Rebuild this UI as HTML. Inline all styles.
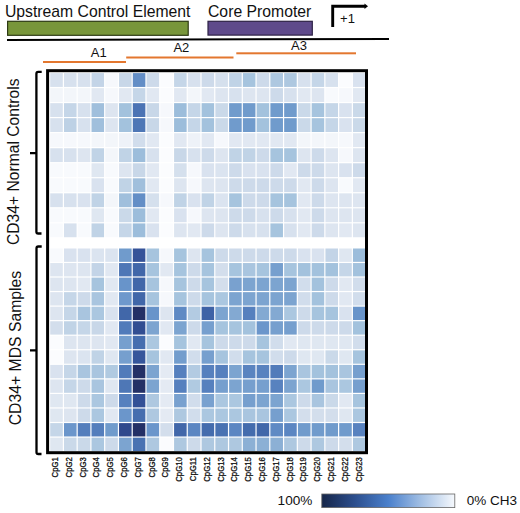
<!DOCTYPE html>
<html><head><meta charset="utf-8"><style>
html,body{margin:0;padding:0;background:#fff;}
svg{display:block;font-family:"Liberation Sans",sans-serif;}
</style></head><body>
<svg width="520" height="513" viewBox="0 0 520 513">
<defs><linearGradient id="lg" x1="0" x2="1" y1="0" y2="0">
<stop offset="0" stop-color="#162649"/>
<stop offset="0.25" stop-color="#2c4f8e"/>
<stop offset="0.5" stop-color="#4a80cc"/>
<stop offset="0.75" stop-color="#a3c0e4"/>
<stop offset="1" stop-color="#f6f9fd"/>
</linearGradient></defs>
<rect width="520" height="513" fill="#fff"/>
<!-- top annotations -->
<text x="4.9" y="17.1" font-size="15.75" fill="#111">Upstream Control Element</text>
<text x="208" y="17.1" font-size="15.75" fill="#111">Core Promoter</text>
<rect x="7.6" y="21.3" width="180.6" height="14" fill="#78963a" stroke="#2d3a14" stroke-width="1.2"/>
<rect x="208" y="21.3" width="104.3" height="13.8" fill="#5f4a8b" stroke="#2e2245" stroke-width="1.2"/>
<path d="M7 39.05 L389 37.9 L389 39.9 L7 41.05 Z" fill="#000"/>
<path d="M332.7 26.9 V6.3 H365" fill="none" stroke="#000" stroke-width="2.9"/>
<path d="M364.5 3.6 L368 6.3 L364.5 9 Z" fill="#000"/>
<text x="340.1" y="23.4" font-size="13" fill="#111">+1</text>
<!-- A regions -->
<rect x="43" y="61" width="83" height="2" fill="#e3772f"/>
<rect x="126.2" y="56.5" width="107.3" height="2" fill="#e3772f"/>
<rect x="236.3" y="52.3" width="119.7" height="2" fill="#e3772f"/>
<text x="90.8" y="57" font-size="13" fill="#111">A1</text>
<text x="173.4" y="51.6" font-size="13" fill="#111">A2</text>
<text x="291" y="49.8" font-size="13" fill="#111">A3</text>
<!-- heatmap -->
<rect x="50.24" y="73.10" width="12.56" height="13.83" fill="#d7e1ee"/><rect x="64.00" y="73.10" width="12.56" height="13.83" fill="#d7e1ee"/><rect x="77.76" y="73.10" width="12.56" height="13.83" fill="#d7e1ee"/><rect x="91.52" y="73.10" width="12.56" height="13.83" fill="#c3d4e7"/><rect x="105.28" y="73.10" width="12.56" height="13.83" fill="#f6f8fc"/><rect x="119.04" y="73.10" width="12.56" height="13.83" fill="#c8d7e8"/><rect x="132.80" y="73.10" width="12.56" height="13.83" fill="#638ec6"/><rect x="146.56" y="73.10" width="12.56" height="13.83" fill="#cddaea"/><rect x="160.32" y="73.10" width="12.56" height="13.83" fill="#fbfcfe"/><rect x="174.08" y="73.10" width="12.56" height="13.83" fill="#c5d6e8"/><rect x="187.84" y="73.10" width="12.56" height="13.83" fill="#d7e1ee"/><rect x="201.60" y="73.10" width="12.56" height="13.83" fill="#cddaea"/><rect x="215.36" y="73.10" width="12.56" height="13.83" fill="#d5e0ed"/><rect x="229.12" y="73.10" width="12.56" height="13.83" fill="#c0d3e6"/><rect x="242.88" y="73.10" width="12.56" height="13.83" fill="#a6c4de"/><rect x="256.64" y="73.10" width="12.56" height="13.83" fill="#cddaea"/><rect x="270.40" y="73.10" width="12.56" height="13.83" fill="#aec8e0"/><rect x="284.16" y="73.10" width="12.56" height="13.83" fill="#aec8e0"/><rect x="297.92" y="73.10" width="12.56" height="13.83" fill="#d7e1ee"/><rect x="311.68" y="73.10" width="12.56" height="13.83" fill="#c5d6e8"/><rect x="325.44" y="73.10" width="12.56" height="13.83" fill="#d7e1ee"/><rect x="339.20" y="73.10" width="12.56" height="13.83" fill="#fbfcfe"/><rect x="352.96" y="73.10" width="12.56" height="13.83" fill="#d9e2ef"/><rect x="50.24" y="88.13" width="12.56" height="13.83" fill="#f3f6fa"/><rect x="64.00" y="88.13" width="12.56" height="13.83" fill="#f3f6fa"/><rect x="77.76" y="88.13" width="12.56" height="13.83" fill="#f3f6fa"/><rect x="91.52" y="88.13" width="12.56" height="13.83" fill="#e1e8f2"/><rect x="105.28" y="88.13" width="12.56" height="13.83" fill="#f6f8fc"/><rect x="119.04" y="88.13" width="12.56" height="13.83" fill="#e1e8f2"/><rect x="132.80" y="88.13" width="12.56" height="13.83" fill="#c5d6e8"/><rect x="146.56" y="88.13" width="12.56" height="13.83" fill="#e1e8f2"/><rect x="160.32" y="88.13" width="12.56" height="13.83" fill="#fbfcfe"/><rect x="174.08" y="88.13" width="12.56" height="13.83" fill="#e1e8f2"/><rect x="187.84" y="88.13" width="12.56" height="13.83" fill="#f3f6fa"/><rect x="201.60" y="88.13" width="12.56" height="13.83" fill="#e1e8f2"/><rect x="215.36" y="88.13" width="12.56" height="13.83" fill="#dde5f0"/><rect x="229.12" y="88.13" width="12.56" height="13.83" fill="#d7e1ee"/><rect x="242.88" y="88.13" width="12.56" height="13.83" fill="#dde5f0"/><rect x="256.64" y="88.13" width="12.56" height="13.83" fill="#dde5f0"/><rect x="270.40" y="88.13" width="12.56" height="13.83" fill="#cddaea"/><rect x="284.16" y="88.13" width="12.56" height="13.83" fill="#d7e1ee"/><rect x="297.92" y="88.13" width="12.56" height="13.83" fill="#e1e8f2"/><rect x="311.68" y="88.13" width="12.56" height="13.83" fill="#dde5f0"/><rect x="325.44" y="88.13" width="12.56" height="13.83" fill="#f8fafd"/><rect x="339.20" y="88.13" width="12.56" height="13.83" fill="#f6f8fc"/><rect x="352.96" y="88.13" width="12.56" height="13.83" fill="#e1e8f2"/><rect x="50.24" y="103.16" width="12.56" height="13.83" fill="#d7e1ee"/><rect x="64.00" y="103.16" width="12.56" height="13.83" fill="#c5d6e8"/><rect x="77.76" y="103.16" width="12.56" height="13.83" fill="#d7e1ee"/><rect x="91.52" y="103.16" width="12.56" height="13.83" fill="#a0bfdc"/><rect x="105.28" y="103.16" width="12.56" height="13.83" fill="#dde5f0"/><rect x="119.04" y="103.16" width="12.56" height="13.83" fill="#a3c2dd"/><rect x="132.80" y="103.16" width="12.56" height="13.83" fill="#4b73b4"/><rect x="146.56" y="103.16" width="12.56" height="13.83" fill="#c8d7e8"/><rect x="160.32" y="103.16" width="12.56" height="13.83" fill="#f6f8fc"/><rect x="174.08" y="103.16" width="12.56" height="13.83" fill="#9cbddb"/><rect x="187.84" y="103.16" width="12.56" height="13.83" fill="#c5d6e8"/><rect x="201.60" y="103.16" width="12.56" height="13.83" fill="#a3c2dd"/><rect x="215.36" y="103.16" width="12.56" height="13.83" fill="#cad9e9"/><rect x="229.12" y="103.16" width="12.56" height="13.83" fill="#709bcc"/><rect x="242.88" y="103.16" width="12.56" height="13.83" fill="#709bcc"/><rect x="256.64" y="103.16" width="12.56" height="13.83" fill="#a3c2dd"/><rect x="270.40" y="103.16" width="12.56" height="13.83" fill="#709bcc"/><rect x="284.16" y="103.16" width="12.56" height="13.83" fill="#709bcc"/><rect x="297.92" y="103.16" width="12.56" height="13.83" fill="#cad9e9"/><rect x="311.68" y="103.16" width="12.56" height="13.83" fill="#a6c4de"/><rect x="325.44" y="103.16" width="12.56" height="13.83" fill="#c5d6e8"/><rect x="339.20" y="103.16" width="12.56" height="13.83" fill="#d9e2ef"/><rect x="352.96" y="103.16" width="12.56" height="13.83" fill="#cad9e9"/><rect x="50.24" y="118.19" width="12.56" height="13.83" fill="#d7e1ee"/><rect x="64.00" y="118.19" width="12.56" height="13.83" fill="#bdd1e5"/><rect x="77.76" y="118.19" width="12.56" height="13.83" fill="#d7e1ee"/><rect x="91.52" y="118.19" width="12.56" height="13.83" fill="#a0bfdc"/><rect x="105.28" y="118.19" width="12.56" height="13.83" fill="#dde5f0"/><rect x="119.04" y="118.19" width="12.56" height="13.83" fill="#a3c2dd"/><rect x="132.80" y="118.19" width="12.56" height="13.83" fill="#4e77b6"/><rect x="146.56" y="118.19" width="12.56" height="13.83" fill="#c8d7e8"/><rect x="160.32" y="118.19" width="12.56" height="13.83" fill="#f6f8fc"/><rect x="174.08" y="118.19" width="12.56" height="13.83" fill="#9cbddb"/><rect x="187.84" y="118.19" width="12.56" height="13.83" fill="#c5d6e8"/><rect x="201.60" y="118.19" width="12.56" height="13.83" fill="#a3c2dd"/><rect x="215.36" y="118.19" width="12.56" height="13.83" fill="#cad9e9"/><rect x="229.12" y="118.19" width="12.56" height="13.83" fill="#709bcc"/><rect x="242.88" y="118.19" width="12.56" height="13.83" fill="#709bcc"/><rect x="256.64" y="118.19" width="12.56" height="13.83" fill="#a3c2dd"/><rect x="270.40" y="118.19" width="12.56" height="13.83" fill="#709bcc"/><rect x="284.16" y="118.19" width="12.56" height="13.83" fill="#709bcc"/><rect x="297.92" y="118.19" width="12.56" height="13.83" fill="#cad9e9"/><rect x="311.68" y="118.19" width="12.56" height="13.83" fill="#a6c4de"/><rect x="325.44" y="118.19" width="12.56" height="13.83" fill="#c5d6e8"/><rect x="339.20" y="118.19" width="12.56" height="13.83" fill="#d9e2ef"/><rect x="352.96" y="118.19" width="12.56" height="13.83" fill="#cad9e9"/><rect x="50.24" y="133.22" width="12.56" height="13.83" fill="#f6f8fc"/><rect x="64.00" y="133.22" width="12.56" height="13.83" fill="#f6f8fc"/><rect x="77.76" y="133.22" width="12.56" height="13.83" fill="#f6f8fc"/><rect x="91.52" y="133.22" width="12.56" height="13.83" fill="#f3f6fa"/><rect x="105.28" y="133.22" width="12.56" height="13.83" fill="#f3f6fa"/><rect x="119.04" y="133.22" width="12.56" height="13.83" fill="#eef2f8"/><rect x="132.80" y="133.22" width="12.56" height="13.83" fill="#d1ddec"/><rect x="146.56" y="133.22" width="12.56" height="13.83" fill="#e1e8f2"/><rect x="160.32" y="133.22" width="12.56" height="13.83" fill="#fbfcfe"/><rect x="174.08" y="133.22" width="12.56" height="13.83" fill="#e1e8f2"/><rect x="187.84" y="133.22" width="12.56" height="13.83" fill="#eef2f8"/><rect x="201.60" y="133.22" width="12.56" height="13.83" fill="#e1e8f2"/><rect x="215.36" y="133.22" width="12.56" height="13.83" fill="#f6f8fc"/><rect x="229.12" y="133.22" width="12.56" height="13.83" fill="#e1e8f2"/><rect x="242.88" y="133.22" width="12.56" height="13.83" fill="#e1e8f2"/><rect x="256.64" y="133.22" width="12.56" height="13.83" fill="#e1e8f2"/><rect x="270.40" y="133.22" width="12.56" height="13.83" fill="#e1e8f2"/><rect x="284.16" y="133.22" width="12.56" height="13.83" fill="#e1e8f2"/><rect x="297.92" y="133.22" width="12.56" height="13.83" fill="#f3f6fa"/><rect x="311.68" y="133.22" width="12.56" height="13.83" fill="#f3f6fa"/><rect x="325.44" y="133.22" width="12.56" height="13.83" fill="#f3f6fa"/><rect x="339.20" y="133.22" width="12.56" height="13.83" fill="#f6f8fc"/><rect x="352.96" y="133.22" width="12.56" height="13.83" fill="#e1e8f2"/><rect x="50.24" y="148.25" width="12.56" height="13.83" fill="#d7e1ee"/><rect x="64.00" y="148.25" width="12.56" height="13.83" fill="#d7e1ee"/><rect x="77.76" y="148.25" width="12.56" height="13.83" fill="#dde5f0"/><rect x="91.52" y="148.25" width="12.56" height="13.83" fill="#c0d3e6"/><rect x="105.28" y="148.25" width="12.56" height="13.83" fill="#f3f6fa"/><rect x="119.04" y="148.25" width="12.56" height="13.83" fill="#c0d3e6"/><rect x="132.80" y="148.25" width="12.56" height="13.83" fill="#9cbddb"/><rect x="146.56" y="148.25" width="12.56" height="13.83" fill="#d7e1ee"/><rect x="160.32" y="148.25" width="12.56" height="13.83" fill="#fbfcfe"/><rect x="174.08" y="148.25" width="12.56" height="13.83" fill="#c8d7e8"/><rect x="187.84" y="148.25" width="12.56" height="13.83" fill="#d7e1ee"/><rect x="201.60" y="148.25" width="12.56" height="13.83" fill="#cddaea"/><rect x="215.36" y="148.25" width="12.56" height="13.83" fill="#dde5f0"/><rect x="229.12" y="148.25" width="12.56" height="13.83" fill="#c0d3e6"/><rect x="242.88" y="148.25" width="12.56" height="13.83" fill="#c0d3e6"/><rect x="256.64" y="148.25" width="12.56" height="13.83" fill="#cddaea"/><rect x="270.40" y="148.25" width="12.56" height="13.83" fill="#a6c4de"/><rect x="284.16" y="148.25" width="12.56" height="13.83" fill="#a6c4de"/><rect x="297.92" y="148.25" width="12.56" height="13.83" fill="#dde5f0"/><rect x="311.68" y="148.25" width="12.56" height="13.83" fill="#cddaea"/><rect x="325.44" y="148.25" width="12.56" height="13.83" fill="#dde5f0"/><rect x="339.20" y="148.25" width="12.56" height="13.83" fill="#f6f8fc"/><rect x="352.96" y="148.25" width="12.56" height="13.83" fill="#dde5f0"/><rect x="50.24" y="163.28" width="12.56" height="13.83" fill="#f8fafd"/><rect x="64.00" y="163.28" width="12.56" height="13.83" fill="#f8fafd"/><rect x="77.76" y="163.28" width="12.56" height="13.83" fill="#f8fafd"/><rect x="91.52" y="163.28" width="12.56" height="13.83" fill="#dfe7f1"/><rect x="105.28" y="163.28" width="12.56" height="13.83" fill="#f8fafd"/><rect x="119.04" y="163.28" width="12.56" height="13.83" fill="#dde5f0"/><rect x="132.80" y="163.28" width="12.56" height="13.83" fill="#c8d7e8"/><rect x="146.56" y="163.28" width="12.56" height="13.83" fill="#e1e8f2"/><rect x="160.32" y="163.28" width="12.56" height="13.83" fill="#fbfcfe"/><rect x="174.08" y="163.28" width="12.56" height="13.83" fill="#d5e0ed"/><rect x="187.84" y="163.28" width="12.56" height="13.83" fill="#f6f8fc"/><rect x="201.60" y="163.28" width="12.56" height="13.83" fill="#d9e2ef"/><rect x="215.36" y="163.28" width="12.56" height="13.83" fill="#dbe4f0"/><rect x="229.12" y="163.28" width="12.56" height="13.83" fill="#cddaea"/><rect x="242.88" y="163.28" width="12.56" height="13.83" fill="#d9e2ef"/><rect x="256.64" y="163.28" width="12.56" height="13.83" fill="#d9e2ef"/><rect x="270.40" y="163.28" width="12.56" height="13.83" fill="#cddaea"/><rect x="284.16" y="163.28" width="12.56" height="13.83" fill="#e1e8f2"/><rect x="297.92" y="163.28" width="12.56" height="13.83" fill="#cddaea"/><rect x="311.68" y="163.28" width="12.56" height="13.83" fill="#cddaea"/><rect x="325.44" y="163.28" width="12.56" height="13.83" fill="#dde5f0"/><rect x="339.20" y="163.28" width="12.56" height="13.83" fill="#d9e2ef"/><rect x="352.96" y="163.28" width="12.56" height="13.83" fill="#cddaea"/><rect x="50.24" y="178.31" width="12.56" height="13.83" fill="#f8fafd"/><rect x="64.00" y="178.31" width="12.56" height="13.83" fill="#f8fafd"/><rect x="77.76" y="178.31" width="12.56" height="13.83" fill="#f8fafd"/><rect x="91.52" y="178.31" width="12.56" height="13.83" fill="#d9e2ef"/><rect x="105.28" y="178.31" width="12.56" height="13.83" fill="#f8fafd"/><rect x="119.04" y="178.31" width="12.56" height="13.83" fill="#c0d3e6"/><rect x="132.80" y="178.31" width="12.56" height="13.83" fill="#a0bfdc"/><rect x="146.56" y="178.31" width="12.56" height="13.83" fill="#e1e8f2"/><rect x="160.32" y="178.31" width="12.56" height="13.83" fill="#fbfcfe"/><rect x="174.08" y="178.31" width="12.56" height="13.83" fill="#dde5f0"/><rect x="187.84" y="178.31" width="12.56" height="13.83" fill="#f6f8fc"/><rect x="201.60" y="178.31" width="12.56" height="13.83" fill="#dde5f0"/><rect x="215.36" y="178.31" width="12.56" height="13.83" fill="#dde5f0"/><rect x="229.12" y="178.31" width="12.56" height="13.83" fill="#cddaea"/><rect x="242.88" y="178.31" width="12.56" height="13.83" fill="#cddaea"/><rect x="256.64" y="178.31" width="12.56" height="13.83" fill="#cddaea"/><rect x="270.40" y="178.31" width="12.56" height="13.83" fill="#cddaea"/><rect x="284.16" y="178.31" width="12.56" height="13.83" fill="#cddaea"/><rect x="297.92" y="178.31" width="12.56" height="13.83" fill="#e1e8f2"/><rect x="311.68" y="178.31" width="12.56" height="13.83" fill="#cddaea"/><rect x="325.44" y="178.31" width="12.56" height="13.83" fill="#dde5f0"/><rect x="339.20" y="178.31" width="12.56" height="13.83" fill="#f8fafd"/><rect x="352.96" y="178.31" width="12.56" height="13.83" fill="#e1e8f2"/><rect x="50.24" y="193.34" width="12.56" height="13.83" fill="#d7e1ee"/><rect x="64.00" y="193.34" width="12.56" height="13.83" fill="#d7e1ee"/><rect x="77.76" y="193.34" width="12.56" height="13.83" fill="#d9e2ef"/><rect x="91.52" y="193.34" width="12.56" height="13.83" fill="#c0d3e6"/><rect x="105.28" y="193.34" width="12.56" height="13.83" fill="#f3f6fa"/><rect x="119.04" y="193.34" width="12.56" height="13.83" fill="#a0bfdc"/><rect x="132.80" y="193.34" width="12.56" height="13.83" fill="#638ec6"/><rect x="146.56" y="193.34" width="12.56" height="13.83" fill="#d5e0ed"/><rect x="160.32" y="193.34" width="12.56" height="13.83" fill="#f6f8fc"/><rect x="174.08" y="193.34" width="12.56" height="13.83" fill="#c0d3e6"/><rect x="187.84" y="193.34" width="12.56" height="13.83" fill="#d9e2ef"/><rect x="201.60" y="193.34" width="12.56" height="13.83" fill="#c0d3e6"/><rect x="215.36" y="193.34" width="12.56" height="13.83" fill="#dbe4f0"/><rect x="229.12" y="193.34" width="12.56" height="13.83" fill="#a6c4de"/><rect x="242.88" y="193.34" width="12.56" height="13.83" fill="#cddaea"/><rect x="256.64" y="193.34" width="12.56" height="13.83" fill="#cddaea"/><rect x="270.40" y="193.34" width="12.56" height="13.83" fill="#a6c4de"/><rect x="284.16" y="193.34" width="12.56" height="13.83" fill="#a6c4de"/><rect x="297.92" y="193.34" width="12.56" height="13.83" fill="#e1e8f2"/><rect x="311.68" y="193.34" width="12.56" height="13.83" fill="#cddaea"/><rect x="325.44" y="193.34" width="12.56" height="13.83" fill="#dde5f0"/><rect x="339.20" y="193.34" width="12.56" height="13.83" fill="#dde5f0"/><rect x="352.96" y="193.34" width="12.56" height="13.83" fill="#dde5f0"/><rect x="50.24" y="208.37" width="12.56" height="13.83" fill="#f8fafd"/><rect x="64.00" y="208.37" width="12.56" height="13.83" fill="#f8fafd"/><rect x="77.76" y="208.37" width="12.56" height="13.83" fill="#f8fafd"/><rect x="91.52" y="208.37" width="12.56" height="13.83" fill="#dfe7f1"/><rect x="105.28" y="208.37" width="12.56" height="13.83" fill="#f8fafd"/><rect x="119.04" y="208.37" width="12.56" height="13.83" fill="#cad9e9"/><rect x="132.80" y="208.37" width="12.56" height="13.83" fill="#9cbddb"/><rect x="146.56" y="208.37" width="12.56" height="13.83" fill="#e1e8f2"/><rect x="160.32" y="208.37" width="12.56" height="13.83" fill="#fbfcfe"/><rect x="174.08" y="208.37" width="12.56" height="13.83" fill="#d9e2ef"/><rect x="187.84" y="208.37" width="12.56" height="13.83" fill="#f6f8fc"/><rect x="201.60" y="208.37" width="12.56" height="13.83" fill="#dde5f0"/><rect x="215.36" y="208.37" width="12.56" height="13.83" fill="#dde5f0"/><rect x="229.12" y="208.37" width="12.56" height="13.83" fill="#cddaea"/><rect x="242.88" y="208.37" width="12.56" height="13.83" fill="#cddaea"/><rect x="256.64" y="208.37" width="12.56" height="13.83" fill="#d7e1ee"/><rect x="270.40" y="208.37" width="12.56" height="13.83" fill="#cddaea"/><rect x="284.16" y="208.37" width="12.56" height="13.83" fill="#d7e1ee"/><rect x="297.92" y="208.37" width="12.56" height="13.83" fill="#e1e8f2"/><rect x="311.68" y="208.37" width="12.56" height="13.83" fill="#cddaea"/><rect x="325.44" y="208.37" width="12.56" height="13.83" fill="#dde5f0"/><rect x="339.20" y="208.37" width="12.56" height="13.83" fill="#dde5f0"/><rect x="352.96" y="208.37" width="12.56" height="13.83" fill="#dde5f0"/><rect x="50.24" y="223.40" width="12.56" height="13.83" fill="#f8fafd"/><rect x="64.00" y="223.40" width="12.56" height="13.83" fill="#d7e1ee"/><rect x="77.76" y="223.40" width="12.56" height="13.83" fill="#f8fafd"/><rect x="91.52" y="223.40" width="12.56" height="13.83" fill="#c0d3e6"/><rect x="105.28" y="223.40" width="12.56" height="13.83" fill="#f8fafd"/><rect x="119.04" y="223.40" width="12.56" height="13.83" fill="#c5d6e8"/><rect x="132.80" y="223.40" width="12.56" height="13.83" fill="#9cbddb"/><rect x="146.56" y="223.40" width="12.56" height="13.83" fill="#d9e2ef"/><rect x="160.32" y="223.40" width="12.56" height="13.83" fill="#fbfcfe"/><rect x="174.08" y="223.40" width="12.56" height="13.83" fill="#dde5f0"/><rect x="187.84" y="223.40" width="12.56" height="13.83" fill="#e1e8f2"/><rect x="201.60" y="223.40" width="12.56" height="13.83" fill="#cddaea"/><rect x="215.36" y="223.40" width="12.56" height="13.83" fill="#dde5f0"/><rect x="229.12" y="223.40" width="12.56" height="13.83" fill="#cddaea"/><rect x="242.88" y="223.40" width="12.56" height="13.83" fill="#d7e1ee"/><rect x="256.64" y="223.40" width="12.56" height="13.83" fill="#d7e1ee"/><rect x="270.40" y="223.40" width="12.56" height="13.83" fill="#a6c4de"/><rect x="284.16" y="223.40" width="12.56" height="13.83" fill="#d7e1ee"/><rect x="297.92" y="223.40" width="12.56" height="13.83" fill="#e1e8f2"/><rect x="311.68" y="223.40" width="12.56" height="13.83" fill="#cddaea"/><rect x="325.44" y="223.40" width="12.56" height="13.83" fill="#dde5f0"/><rect x="339.20" y="223.40" width="12.56" height="13.83" fill="#e1e8f2"/><rect x="352.96" y="223.40" width="12.56" height="13.83" fill="#dde5f0"/><rect x="50.24" y="248.50" width="12.56" height="13.35" fill="#f8fafd"/><rect x="64.00" y="248.50" width="12.56" height="13.35" fill="#d9e2ef"/><rect x="77.76" y="248.50" width="12.56" height="13.35" fill="#d9e2ef"/><rect x="91.52" y="248.50" width="12.56" height="13.35" fill="#dbe4f0"/><rect x="105.28" y="248.50" width="12.56" height="13.35" fill="#dbe4f0"/><rect x="119.04" y="248.50" width="12.56" height="13.35" fill="#709bcc"/><rect x="132.80" y="248.50" width="12.56" height="13.35" fill="#355399"/><rect x="146.56" y="248.50" width="12.56" height="13.35" fill="#a6c4de"/><rect x="160.32" y="248.50" width="12.56" height="13.35" fill="#f6f8fc"/><rect x="174.08" y="248.50" width="12.56" height="13.35" fill="#a6c4de"/><rect x="187.84" y="248.50" width="12.56" height="13.35" fill="#dde5f0"/><rect x="201.60" y="248.50" width="12.56" height="13.35" fill="#a6c4de"/><rect x="215.36" y="248.50" width="12.56" height="13.35" fill="#cddaea"/><rect x="229.12" y="248.50" width="12.56" height="13.35" fill="#cddaea"/><rect x="242.88" y="248.50" width="12.56" height="13.35" fill="#cddaea"/><rect x="256.64" y="248.50" width="12.56" height="13.35" fill="#cddaea"/><rect x="270.40" y="248.50" width="12.56" height="13.35" fill="#cddaea"/><rect x="284.16" y="248.50" width="12.56" height="13.35" fill="#cddaea"/><rect x="297.92" y="248.50" width="12.56" height="13.35" fill="#d9e2ef"/><rect x="311.68" y="248.50" width="12.56" height="13.35" fill="#d9e2ef"/><rect x="325.44" y="248.50" width="12.56" height="13.35" fill="#c3d4e7"/><rect x="339.20" y="248.50" width="12.56" height="13.35" fill="#dfe7f1"/><rect x="352.96" y="248.50" width="12.56" height="13.35" fill="#9cbddb"/><rect x="50.24" y="263.05" width="12.56" height="13.35" fill="#dde5f0"/><rect x="64.00" y="263.05" width="12.56" height="13.35" fill="#dde5f0"/><rect x="77.76" y="263.05" width="12.56" height="13.35" fill="#dde5f0"/><rect x="91.52" y="263.05" width="12.56" height="13.35" fill="#c3d4e7"/><rect x="105.28" y="263.05" width="12.56" height="13.35" fill="#e1e8f2"/><rect x="119.04" y="263.05" width="12.56" height="13.35" fill="#4e77b6"/><rect x="132.80" y="263.05" width="12.56" height="13.35" fill="#4167a9"/><rect x="146.56" y="263.05" width="12.56" height="13.35" fill="#a6c4de"/><rect x="160.32" y="263.05" width="12.56" height="13.35" fill="#e1e8f2"/><rect x="174.08" y="263.05" width="12.56" height="13.35" fill="#a6c4de"/><rect x="187.84" y="263.05" width="12.56" height="13.35" fill="#cddaea"/><rect x="201.60" y="263.05" width="12.56" height="13.35" fill="#a6c4de"/><rect x="215.36" y="263.05" width="12.56" height="13.35" fill="#d3deec"/><rect x="229.12" y="263.05" width="12.56" height="13.35" fill="#a6c4de"/><rect x="242.88" y="263.05" width="12.56" height="13.35" fill="#a9c5df"/><rect x="256.64" y="263.05" width="12.56" height="13.35" fill="#a6c4de"/><rect x="270.40" y="263.05" width="12.56" height="13.35" fill="#769fce"/><rect x="284.16" y="263.05" width="12.56" height="13.35" fill="#a6c4de"/><rect x="297.92" y="263.05" width="12.56" height="13.35" fill="#a3c2dd"/><rect x="311.68" y="263.05" width="12.56" height="13.35" fill="#a3c2dd"/><rect x="325.44" y="263.05" width="12.56" height="13.35" fill="#a3c2dd"/><rect x="339.20" y="263.05" width="12.56" height="13.35" fill="#c5d6e8"/><rect x="352.96" y="263.05" width="12.56" height="13.35" fill="#a3c2dd"/><rect x="50.24" y="277.60" width="12.56" height="13.35" fill="#dde5f0"/><rect x="64.00" y="277.60" width="12.56" height="13.35" fill="#dde5f0"/><rect x="77.76" y="277.60" width="12.56" height="13.35" fill="#e1e8f2"/><rect x="91.52" y="277.60" width="12.56" height="13.35" fill="#a6c4de"/><rect x="105.28" y="277.60" width="12.56" height="13.35" fill="#e1e8f2"/><rect x="119.04" y="277.60" width="12.56" height="13.35" fill="#6894ca"/><rect x="132.80" y="277.60" width="12.56" height="13.35" fill="#4167a9"/><rect x="146.56" y="277.60" width="12.56" height="13.35" fill="#a6c4de"/><rect x="160.32" y="277.60" width="12.56" height="13.35" fill="#f6f8fc"/><rect x="174.08" y="277.60" width="12.56" height="13.35" fill="#a6c4de"/><rect x="187.84" y="277.60" width="12.56" height="13.35" fill="#cddaea"/><rect x="201.60" y="277.60" width="12.56" height="13.35" fill="#a6c4de"/><rect x="215.36" y="277.60" width="12.56" height="13.35" fill="#d3deec"/><rect x="229.12" y="277.60" width="12.56" height="13.35" fill="#79a1cf"/><rect x="242.88" y="277.60" width="12.56" height="13.35" fill="#7ca4d0"/><rect x="256.64" y="277.60" width="12.56" height="13.35" fill="#7ca4d0"/><rect x="270.40" y="277.60" width="12.56" height="13.35" fill="#7ca4d0"/><rect x="284.16" y="277.60" width="12.56" height="13.35" fill="#7ca4d0"/><rect x="297.92" y="277.60" width="12.56" height="13.35" fill="#d1ddec"/><rect x="311.68" y="277.60" width="12.56" height="13.35" fill="#a3c2dd"/><rect x="325.44" y="277.60" width="12.56" height="13.35" fill="#cddaea"/><rect x="339.20" y="277.60" width="12.56" height="13.35" fill="#e1e8f2"/><rect x="352.96" y="277.60" width="12.56" height="13.35" fill="#d1ddec"/><rect x="50.24" y="292.15" width="12.56" height="13.35" fill="#dde5f0"/><rect x="64.00" y="292.15" width="12.56" height="13.35" fill="#c5d6e8"/><rect x="77.76" y="292.15" width="12.56" height="13.35" fill="#cddaea"/><rect x="91.52" y="292.15" width="12.56" height="13.35" fill="#a9c5df"/><rect x="105.28" y="292.15" width="12.56" height="13.35" fill="#e1e8f2"/><rect x="119.04" y="292.15" width="12.56" height="13.35" fill="#6e98cc"/><rect x="132.80" y="292.15" width="12.56" height="13.35" fill="#4167a9"/><rect x="146.56" y="292.15" width="12.56" height="13.35" fill="#a6c4de"/><rect x="160.32" y="292.15" width="12.56" height="13.35" fill="#f6f8fc"/><rect x="174.08" y="292.15" width="12.56" height="13.35" fill="#a6c4de"/><rect x="187.84" y="292.15" width="12.56" height="13.35" fill="#cddaea"/><rect x="201.60" y="292.15" width="12.56" height="13.35" fill="#a6c4de"/><rect x="215.36" y="292.15" width="12.56" height="13.35" fill="#abc7e0"/><rect x="229.12" y="292.15" width="12.56" height="13.35" fill="#7ca4d0"/><rect x="242.88" y="292.15" width="12.56" height="13.35" fill="#7ca4d0"/><rect x="256.64" y="292.15" width="12.56" height="13.35" fill="#7ca4d0"/><rect x="270.40" y="292.15" width="12.56" height="13.35" fill="#7ca4d0"/><rect x="284.16" y="292.15" width="12.56" height="13.35" fill="#7ca4d0"/><rect x="297.92" y="292.15" width="12.56" height="13.35" fill="#d1ddec"/><rect x="311.68" y="292.15" width="12.56" height="13.35" fill="#a3c2dd"/><rect x="325.44" y="292.15" width="12.56" height="13.35" fill="#cddaea"/><rect x="339.20" y="292.15" width="12.56" height="13.35" fill="#e1e8f2"/><rect x="352.96" y="292.15" width="12.56" height="13.35" fill="#d1ddec"/><rect x="50.24" y="306.70" width="12.56" height="13.35" fill="#dde5f0"/><rect x="64.00" y="306.70" width="12.56" height="13.35" fill="#c5d6e8"/><rect x="77.76" y="306.70" width="12.56" height="13.35" fill="#a9c5df"/><rect x="91.52" y="306.70" width="12.56" height="13.35" fill="#abc7e0"/><rect x="105.28" y="306.70" width="12.56" height="13.35" fill="#d9e2ef"/><rect x="119.04" y="306.70" width="12.56" height="13.35" fill="#4167a9"/><rect x="132.80" y="306.70" width="12.56" height="13.35" fill="#243066"/><rect x="146.56" y="306.70" width="12.56" height="13.35" fill="#6894ca"/><rect x="160.32" y="306.70" width="12.56" height="13.35" fill="#dde5f0"/><rect x="174.08" y="306.70" width="12.56" height="13.35" fill="#5f8ac4"/><rect x="187.84" y="306.70" width="12.56" height="13.35" fill="#b3cbe2"/><rect x="201.60" y="306.70" width="12.56" height="13.35" fill="#3e62a6"/><rect x="215.36" y="306.70" width="12.56" height="13.35" fill="#7ca4d0"/><rect x="229.12" y="306.70" width="12.56" height="13.35" fill="#83a9d2"/><rect x="242.88" y="306.70" width="12.56" height="13.35" fill="#5680be"/><rect x="256.64" y="306.70" width="12.56" height="13.35" fill="#83a9d2"/><rect x="270.40" y="306.70" width="12.56" height="13.35" fill="#83a9d2"/><rect x="284.16" y="306.70" width="12.56" height="13.35" fill="#abc7e0"/><rect x="297.92" y="306.70" width="12.56" height="13.35" fill="#cddaea"/><rect x="311.68" y="306.70" width="12.56" height="13.35" fill="#a6c4de"/><rect x="325.44" y="306.70" width="12.56" height="13.35" fill="#a6c4de"/><rect x="339.20" y="306.70" width="12.56" height="13.35" fill="#d9e2ef"/><rect x="352.96" y="306.70" width="12.56" height="13.35" fill="#6894ca"/><rect x="50.24" y="321.25" width="12.56" height="13.35" fill="#d3deec"/><rect x="64.00" y="321.25" width="12.56" height="13.35" fill="#c0d3e6"/><rect x="77.76" y="321.25" width="12.56" height="13.35" fill="#c5d6e8"/><rect x="91.52" y="321.25" width="12.56" height="13.35" fill="#c8d7e8"/><rect x="105.28" y="321.25" width="12.56" height="13.35" fill="#e1e8f2"/><rect x="119.04" y="321.25" width="12.56" height="13.35" fill="#517bba"/><rect x="132.80" y="321.25" width="12.56" height="13.35" fill="#324e92"/><rect x="146.56" y="321.25" width="12.56" height="13.35" fill="#7ca4d0"/><rect x="160.32" y="321.25" width="12.56" height="13.35" fill="#e1e8f2"/><rect x="174.08" y="321.25" width="12.56" height="13.35" fill="#7ca4d0"/><rect x="187.84" y="321.25" width="12.56" height="13.35" fill="#cddaea"/><rect x="201.60" y="321.25" width="12.56" height="13.35" fill="#769fce"/><rect x="215.36" y="321.25" width="12.56" height="13.35" fill="#a6c4de"/><rect x="229.12" y="321.25" width="12.56" height="13.35" fill="#a6c4de"/><rect x="242.88" y="321.25" width="12.56" height="13.35" fill="#a3c2dd"/><rect x="256.64" y="321.25" width="12.56" height="13.35" fill="#6b96cb"/><rect x="270.40" y="321.25" width="12.56" height="13.35" fill="#769fce"/><rect x="284.16" y="321.25" width="12.56" height="13.35" fill="#769fce"/><rect x="297.92" y="321.25" width="12.56" height="13.35" fill="#cddaea"/><rect x="311.68" y="321.25" width="12.56" height="13.35" fill="#cddaea"/><rect x="325.44" y="321.25" width="12.56" height="13.35" fill="#cddaea"/><rect x="339.20" y="321.25" width="12.56" height="13.35" fill="#cddaea"/><rect x="352.96" y="321.25" width="12.56" height="13.35" fill="#a3c2dd"/><rect x="50.24" y="335.80" width="12.56" height="13.35" fill="#fbfcfe"/><rect x="64.00" y="335.80" width="12.56" height="13.35" fill="#dde5f0"/><rect x="77.76" y="335.80" width="12.56" height="13.35" fill="#dde5f0"/><rect x="91.52" y="335.80" width="12.56" height="13.35" fill="#dde5f0"/><rect x="105.28" y="335.80" width="12.56" height="13.35" fill="#e1e8f2"/><rect x="119.04" y="335.80" width="12.56" height="13.35" fill="#769fce"/><rect x="132.80" y="335.80" width="12.56" height="13.35" fill="#466eaf"/><rect x="146.56" y="335.80" width="12.56" height="13.35" fill="#abc7e0"/><rect x="160.32" y="335.80" width="12.56" height="13.35" fill="#fbfcfe"/><rect x="174.08" y="335.80" width="12.56" height="13.35" fill="#a6c4de"/><rect x="187.84" y="335.80" width="12.56" height="13.35" fill="#e1e8f2"/><rect x="201.60" y="335.80" width="12.56" height="13.35" fill="#a6c4de"/><rect x="215.36" y="335.80" width="12.56" height="13.35" fill="#cddaea"/><rect x="229.12" y="335.80" width="12.56" height="13.35" fill="#cddaea"/><rect x="242.88" y="335.80" width="12.56" height="13.35" fill="#cddaea"/><rect x="256.64" y="335.80" width="12.56" height="13.35" fill="#a6c4de"/><rect x="270.40" y="335.80" width="12.56" height="13.35" fill="#d1ddec"/><rect x="284.16" y="335.80" width="12.56" height="13.35" fill="#e1e8f2"/><rect x="297.92" y="335.80" width="12.56" height="13.35" fill="#dfe7f1"/><rect x="311.68" y="335.80" width="12.56" height="13.35" fill="#dfe7f1"/><rect x="325.44" y="335.80" width="12.56" height="13.35" fill="#dfe7f1"/><rect x="339.20" y="335.80" width="12.56" height="13.35" fill="#dfe7f1"/><rect x="352.96" y="335.80" width="12.56" height="13.35" fill="#d1ddec"/><rect x="50.24" y="350.35" width="12.56" height="13.35" fill="#fbfcfe"/><rect x="64.00" y="350.35" width="12.56" height="13.35" fill="#dde5f0"/><rect x="77.76" y="350.35" width="12.56" height="13.35" fill="#dbe4f0"/><rect x="91.52" y="350.35" width="12.56" height="13.35" fill="#c0d3e6"/><rect x="105.28" y="350.35" width="12.56" height="13.35" fill="#dfe7f1"/><rect x="119.04" y="350.35" width="12.56" height="13.35" fill="#769fce"/><rect x="132.80" y="350.35" width="12.56" height="13.35" fill="#36569c"/><rect x="146.56" y="350.35" width="12.56" height="13.35" fill="#a6c4de"/><rect x="160.32" y="350.35" width="12.56" height="13.35" fill="#e1e8f2"/><rect x="174.08" y="350.35" width="12.56" height="13.35" fill="#739dcd"/><rect x="187.84" y="350.35" width="12.56" height="13.35" fill="#d1ddec"/><rect x="201.60" y="350.35" width="12.56" height="13.35" fill="#769fce"/><rect x="215.36" y="350.35" width="12.56" height="13.35" fill="#a6c4de"/><rect x="229.12" y="350.35" width="12.56" height="13.35" fill="#d1ddec"/><rect x="242.88" y="350.35" width="12.56" height="13.35" fill="#a6c4de"/><rect x="256.64" y="350.35" width="12.56" height="13.35" fill="#a6c4de"/><rect x="270.40" y="350.35" width="12.56" height="13.35" fill="#d1ddec"/><rect x="284.16" y="350.35" width="12.56" height="13.35" fill="#cddaea"/><rect x="297.92" y="350.35" width="12.56" height="13.35" fill="#dfe7f1"/><rect x="311.68" y="350.35" width="12.56" height="13.35" fill="#dfe7f1"/><rect x="325.44" y="350.35" width="12.56" height="13.35" fill="#cad9e9"/><rect x="339.20" y="350.35" width="12.56" height="13.35" fill="#dfe7f1"/><rect x="352.96" y="350.35" width="12.56" height="13.35" fill="#a6c4de"/><rect x="50.24" y="364.90" width="12.56" height="13.35" fill="#d9e2ef"/><rect x="64.00" y="364.90" width="12.56" height="13.35" fill="#c5d6e8"/><rect x="77.76" y="364.90" width="12.56" height="13.35" fill="#a9c5df"/><rect x="91.52" y="364.90" width="12.56" height="13.35" fill="#a9c5df"/><rect x="105.28" y="364.90" width="12.56" height="13.35" fill="#b0cae1"/><rect x="119.04" y="364.90" width="12.56" height="13.35" fill="#517bba"/><rect x="132.80" y="364.90" width="12.56" height="13.35" fill="#243066"/><rect x="146.56" y="364.90" width="12.56" height="13.35" fill="#7ca4d0"/><rect x="160.32" y="364.90" width="12.56" height="13.35" fill="#e4eaf3"/><rect x="174.08" y="364.90" width="12.56" height="13.35" fill="#5680be"/><rect x="187.84" y="364.90" width="12.56" height="13.35" fill="#b3cbe2"/><rect x="201.60" y="364.90" width="12.56" height="13.35" fill="#5680be"/><rect x="215.36" y="364.90" width="12.56" height="13.35" fill="#5680be"/><rect x="229.12" y="364.90" width="12.56" height="13.35" fill="#7ca4d0"/><rect x="242.88" y="364.90" width="12.56" height="13.35" fill="#5a84c0"/><rect x="256.64" y="364.90" width="12.56" height="13.35" fill="#5882bf"/><rect x="270.40" y="364.90" width="12.56" height="13.35" fill="#517bba"/><rect x="284.16" y="364.90" width="12.56" height="13.35" fill="#7ca4d0"/><rect x="297.92" y="364.90" width="12.56" height="13.35" fill="#a9c5df"/><rect x="311.68" y="364.90" width="12.56" height="13.35" fill="#a3c2dd"/><rect x="325.44" y="364.90" width="12.56" height="13.35" fill="#a3c2dd"/><rect x="339.20" y="364.90" width="12.56" height="13.35" fill="#a9c5df"/><rect x="352.96" y="364.90" width="12.56" height="13.35" fill="#769fce"/><rect x="50.24" y="379.45" width="12.56" height="13.35" fill="#dde5f0"/><rect x="64.00" y="379.45" width="12.56" height="13.35" fill="#c5d6e8"/><rect x="77.76" y="379.45" width="12.56" height="13.35" fill="#cddaea"/><rect x="91.52" y="379.45" width="12.56" height="13.35" fill="#a9c5df"/><rect x="105.28" y="379.45" width="12.56" height="13.35" fill="#dfe7f1"/><rect x="119.04" y="379.45" width="12.56" height="13.35" fill="#4e77b6"/><rect x="132.80" y="379.45" width="12.56" height="13.35" fill="#243066"/><rect x="146.56" y="379.45" width="12.56" height="13.35" fill="#7ca4d0"/><rect x="160.32" y="379.45" width="12.56" height="13.35" fill="#e4eaf3"/><rect x="174.08" y="379.45" width="12.56" height="13.35" fill="#5680be"/><rect x="187.84" y="379.45" width="12.56" height="13.35" fill="#b0cae1"/><rect x="201.60" y="379.45" width="12.56" height="13.35" fill="#5680be"/><rect x="215.36" y="379.45" width="12.56" height="13.35" fill="#769fce"/><rect x="229.12" y="379.45" width="12.56" height="13.35" fill="#7ca4d0"/><rect x="242.88" y="379.45" width="12.56" height="13.35" fill="#769fce"/><rect x="256.64" y="379.45" width="12.56" height="13.35" fill="#769fce"/><rect x="270.40" y="379.45" width="12.56" height="13.35" fill="#5882bf"/><rect x="284.16" y="379.45" width="12.56" height="13.35" fill="#7ca4d0"/><rect x="297.92" y="379.45" width="12.56" height="13.35" fill="#abc7e0"/><rect x="311.68" y="379.45" width="12.56" height="13.35" fill="#709bcc"/><rect x="325.44" y="379.45" width="12.56" height="13.35" fill="#a9c5df"/><rect x="339.20" y="379.45" width="12.56" height="13.35" fill="#abc7e0"/><rect x="352.96" y="379.45" width="12.56" height="13.35" fill="#769fce"/><rect x="50.24" y="394.00" width="12.56" height="13.35" fill="#dfe7f1"/><rect x="64.00" y="394.00" width="12.56" height="13.35" fill="#dfe7f1"/><rect x="77.76" y="394.00" width="12.56" height="13.35" fill="#cddaea"/><rect x="91.52" y="394.00" width="12.56" height="13.35" fill="#abc7e0"/><rect x="105.28" y="394.00" width="12.56" height="13.35" fill="#cddaea"/><rect x="119.04" y="394.00" width="12.56" height="13.35" fill="#5680be"/><rect x="132.80" y="394.00" width="12.56" height="13.35" fill="#335096"/><rect x="146.56" y="394.00" width="12.56" height="13.35" fill="#aec8e0"/><rect x="160.32" y="394.00" width="12.56" height="13.35" fill="#e4eaf3"/><rect x="174.08" y="394.00" width="12.56" height="13.35" fill="#79a1cf"/><rect x="187.84" y="394.00" width="12.56" height="13.35" fill="#d1ddec"/><rect x="201.60" y="394.00" width="12.56" height="13.35" fill="#79a1cf"/><rect x="215.36" y="394.00" width="12.56" height="13.35" fill="#abc7e0"/><rect x="229.12" y="394.00" width="12.56" height="13.35" fill="#abc7e0"/><rect x="242.88" y="394.00" width="12.56" height="13.35" fill="#769fce"/><rect x="256.64" y="394.00" width="12.56" height="13.35" fill="#7ca4d0"/><rect x="270.40" y="394.00" width="12.56" height="13.35" fill="#7ca4d0"/><rect x="284.16" y="394.00" width="12.56" height="13.35" fill="#abc7e0"/><rect x="297.92" y="394.00" width="12.56" height="13.35" fill="#cddaea"/><rect x="311.68" y="394.00" width="12.56" height="13.35" fill="#a9c5df"/><rect x="325.44" y="394.00" width="12.56" height="13.35" fill="#cad9e9"/><rect x="339.20" y="394.00" width="12.56" height="13.35" fill="#e1e8f2"/><rect x="352.96" y="394.00" width="12.56" height="13.35" fill="#a6c4de"/><rect x="50.24" y="408.55" width="12.56" height="13.35" fill="#dfe7f1"/><rect x="64.00" y="408.55" width="12.56" height="13.35" fill="#dde5f0"/><rect x="77.76" y="408.55" width="12.56" height="13.35" fill="#cddaea"/><rect x="91.52" y="408.55" width="12.56" height="13.35" fill="#abc7e0"/><rect x="105.28" y="408.55" width="12.56" height="13.35" fill="#e1e8f2"/><rect x="119.04" y="408.55" width="12.56" height="13.35" fill="#6b96cb"/><rect x="132.80" y="408.55" width="12.56" height="13.35" fill="#466eaf"/><rect x="146.56" y="408.55" width="12.56" height="13.35" fill="#aec8e0"/><rect x="160.32" y="408.55" width="12.56" height="13.35" fill="#e4eaf3"/><rect x="174.08" y="408.55" width="12.56" height="13.35" fill="#aec8e0"/><rect x="187.84" y="408.55" width="12.56" height="13.35" fill="#d1ddec"/><rect x="201.60" y="408.55" width="12.56" height="13.35" fill="#abc7e0"/><rect x="215.36" y="408.55" width="12.56" height="13.35" fill="#abc7e0"/><rect x="229.12" y="408.55" width="12.56" height="13.35" fill="#abc7e0"/><rect x="242.88" y="408.55" width="12.56" height="13.35" fill="#a9c5df"/><rect x="256.64" y="408.55" width="12.56" height="13.35" fill="#a9c5df"/><rect x="270.40" y="408.55" width="12.56" height="13.35" fill="#769fce"/><rect x="284.16" y="408.55" width="12.56" height="13.35" fill="#abc7e0"/><rect x="297.92" y="408.55" width="12.56" height="13.35" fill="#d3deec"/><rect x="311.68" y="408.55" width="12.56" height="13.35" fill="#d3deec"/><rect x="325.44" y="408.55" width="12.56" height="13.35" fill="#d3deec"/><rect x="339.20" y="408.55" width="12.56" height="13.35" fill="#dfe7f1"/><rect x="352.96" y="408.55" width="12.56" height="13.35" fill="#abc7e0"/><rect x="50.24" y="423.10" width="12.56" height="13.35" fill="#c5d6e8"/><rect x="64.00" y="423.10" width="12.56" height="13.35" fill="#6b96cb"/><rect x="77.76" y="423.10" width="12.56" height="13.35" fill="#547ebc"/><rect x="91.52" y="423.10" width="12.56" height="13.35" fill="#547ebc"/><rect x="105.28" y="423.10" width="12.56" height="13.35" fill="#709bcc"/><rect x="119.04" y="423.10" width="12.56" height="13.35" fill="#2f488c"/><rect x="132.80" y="423.10" width="12.56" height="13.35" fill="#243066"/><rect x="146.56" y="423.10" width="12.56" height="13.35" fill="#6b96cb"/><rect x="160.32" y="423.10" width="12.56" height="13.35" fill="#d3deec"/><rect x="174.08" y="423.10" width="12.56" height="13.35" fill="#4167a9"/><rect x="187.84" y="423.10" width="12.56" height="13.35" fill="#5b86c2"/><rect x="201.60" y="423.10" width="12.56" height="13.35" fill="#446cad"/><rect x="215.36" y="423.10" width="12.56" height="13.35" fill="#4972b2"/><rect x="229.12" y="423.10" width="12.56" height="13.35" fill="#5b86c2"/><rect x="242.88" y="423.10" width="12.56" height="13.35" fill="#446cad"/><rect x="256.64" y="423.10" width="12.56" height="13.35" fill="#4167a9"/><rect x="270.40" y="423.10" width="12.56" height="13.35" fill="#5f8ac4"/><rect x="284.16" y="423.10" width="12.56" height="13.35" fill="#5b86c2"/><rect x="297.92" y="423.10" width="12.56" height="13.35" fill="#709bcc"/><rect x="311.68" y="423.10" width="12.56" height="13.35" fill="#709bcc"/><rect x="325.44" y="423.10" width="12.56" height="13.35" fill="#709bcc"/><rect x="339.20" y="423.10" width="12.56" height="13.35" fill="#709bcc"/><rect x="352.96" y="423.10" width="12.56" height="13.35" fill="#5882bf"/><rect x="50.24" y="437.65" width="12.56" height="13.35" fill="#dfe7f1"/><rect x="64.00" y="437.65" width="12.56" height="13.35" fill="#cad9e9"/><rect x="77.76" y="437.65" width="12.56" height="13.35" fill="#cad9e9"/><rect x="91.52" y="437.65" width="12.56" height="13.35" fill="#abc7e0"/><rect x="105.28" y="437.65" width="12.56" height="13.35" fill="#cddaea"/><rect x="119.04" y="437.65" width="12.56" height="13.35" fill="#7ca4d0"/><rect x="132.80" y="437.65" width="12.56" height="13.35" fill="#4972b2"/><rect x="146.56" y="437.65" width="12.56" height="13.35" fill="#aec8e0"/><rect x="160.32" y="437.65" width="12.56" height="13.35" fill="#fbfcfe"/><rect x="174.08" y="437.65" width="12.56" height="13.35" fill="#aec8e0"/><rect x="187.84" y="437.65" width="12.56" height="13.35" fill="#cddaea"/><rect x="201.60" y="437.65" width="12.56" height="13.35" fill="#aec8e0"/><rect x="215.36" y="437.65" width="12.56" height="13.35" fill="#aec8e0"/><rect x="229.12" y="437.65" width="12.56" height="13.35" fill="#aec8e0"/><rect x="242.88" y="437.65" width="12.56" height="13.35" fill="#8cb0d5"/><rect x="256.64" y="437.65" width="12.56" height="13.35" fill="#8cb0d5"/><rect x="270.40" y="437.65" width="12.56" height="13.35" fill="#8cb0d5"/><rect x="284.16" y="437.65" width="12.56" height="13.35" fill="#aec8e0"/><rect x="297.92" y="437.65" width="12.56" height="13.35" fill="#cddaea"/><rect x="311.68" y="437.65" width="12.56" height="13.35" fill="#aec8e0"/><rect x="325.44" y="437.65" width="12.56" height="13.35" fill="#cddaea"/><rect x="339.20" y="437.65" width="12.56" height="13.35" fill="#d3deec"/><rect x="352.96" y="437.65" width="12.56" height="13.35" fill="#aec8e0"/>
<rect x="47.6" y="70.7" width="318.9" height="382" fill="none" stroke="#000" stroke-width="3"/>
<!-- brackets -->
<path d="M41.7 71.9 H38.2 Q36.4 71.9 36.4 73.7 V231.7 Q36.4 233.5 38.2 233.5 H41.5 M36.4 153.2 H30" fill="none" stroke="#000" stroke-width="2.3"/>
<path d="M41.7 246.5 H38.3 Q36.5 246.5 36.5 248.3 V452.2 Q36.5 454 38.3 454 H41.5 M36.5 350.4 H30" fill="none" stroke="#000" stroke-width="2.3"/>
<text transform="translate(19.3,245) rotate(-90)" font-size="15.65" fill="#111">CD34+ Normal Controls</text>
<text transform="translate(21,425.3) rotate(-90)" font-size="15.75" fill="#111">CD34+ MDS Samples</text>
<!-- column labels -->
<g font-size="8.6" fill="#111" stroke="#111" stroke-width="0.3"><text transform="translate(57.92,457.2) rotate(-90) scale(0.9,1)" text-anchor="end">CpG1</text><text transform="translate(71.72,457.2) rotate(-90) scale(0.9,1)" text-anchor="end">CpG2</text><text transform="translate(85.52,457.2) rotate(-90) scale(0.9,1)" text-anchor="end">CpG3</text><text transform="translate(99.32,457.2) rotate(-90) scale(0.9,1)" text-anchor="end">CpG4</text><text transform="translate(113.12,457.2) rotate(-90) scale(0.9,1)" text-anchor="end">CpG5</text><text transform="translate(126.92,457.2) rotate(-90) scale(0.9,1)" text-anchor="end">CpG6</text><text transform="translate(140.72,457.2) rotate(-90) scale(0.9,1)" text-anchor="end">CpG7</text><text transform="translate(154.52,457.2) rotate(-90) scale(0.9,1)" text-anchor="end">CpG8</text><text transform="translate(168.32,457.2) rotate(-90) scale(0.9,1)" text-anchor="end">CpG9</text><text transform="translate(182.12,457.2) rotate(-90) scale(0.9,1)" text-anchor="end">CpG10</text><text transform="translate(195.92,457.2) rotate(-90) scale(0.9,1)" text-anchor="end">CpG11</text><text transform="translate(209.72,457.2) rotate(-90) scale(0.9,1)" text-anchor="end">CpG12</text><text transform="translate(223.52,457.2) rotate(-90) scale(0.9,1)" text-anchor="end">CpG13</text><text transform="translate(237.32,457.2) rotate(-90) scale(0.9,1)" text-anchor="end">CpG14</text><text transform="translate(251.12,457.2) rotate(-90) scale(0.9,1)" text-anchor="end">CpG15</text><text transform="translate(264.92,457.2) rotate(-90) scale(0.9,1)" text-anchor="end">CpG16</text><text transform="translate(278.72,457.2) rotate(-90) scale(0.9,1)" text-anchor="end">CpG17</text><text transform="translate(292.52,457.2) rotate(-90) scale(0.9,1)" text-anchor="end">CpG18</text><text transform="translate(306.32,457.2) rotate(-90) scale(0.9,1)" text-anchor="end">CpG19</text><text transform="translate(320.12,457.2) rotate(-90) scale(0.9,1)" text-anchor="end">CpG20</text><text transform="translate(333.92,457.2) rotate(-90) scale(0.9,1)" text-anchor="end">CpG21</text><text transform="translate(347.72,457.2) rotate(-90) scale(0.9,1)" text-anchor="end">CpG22</text><text transform="translate(361.52,457.2) rotate(-90) scale(0.9,1)" text-anchor="end">CpG23</text></g>
<!-- legend -->
<rect x="321.8" y="494" width="133" height="13.6" fill="url(#lg)" stroke="#666" stroke-width="0.8"/>
<text x="277.6" y="504.7" font-size="13.6" fill="#111">100%</text>
<text x="466.8" y="505" font-size="13.5" fill="#111">0% CH3</text>
</svg>
</body></html>
